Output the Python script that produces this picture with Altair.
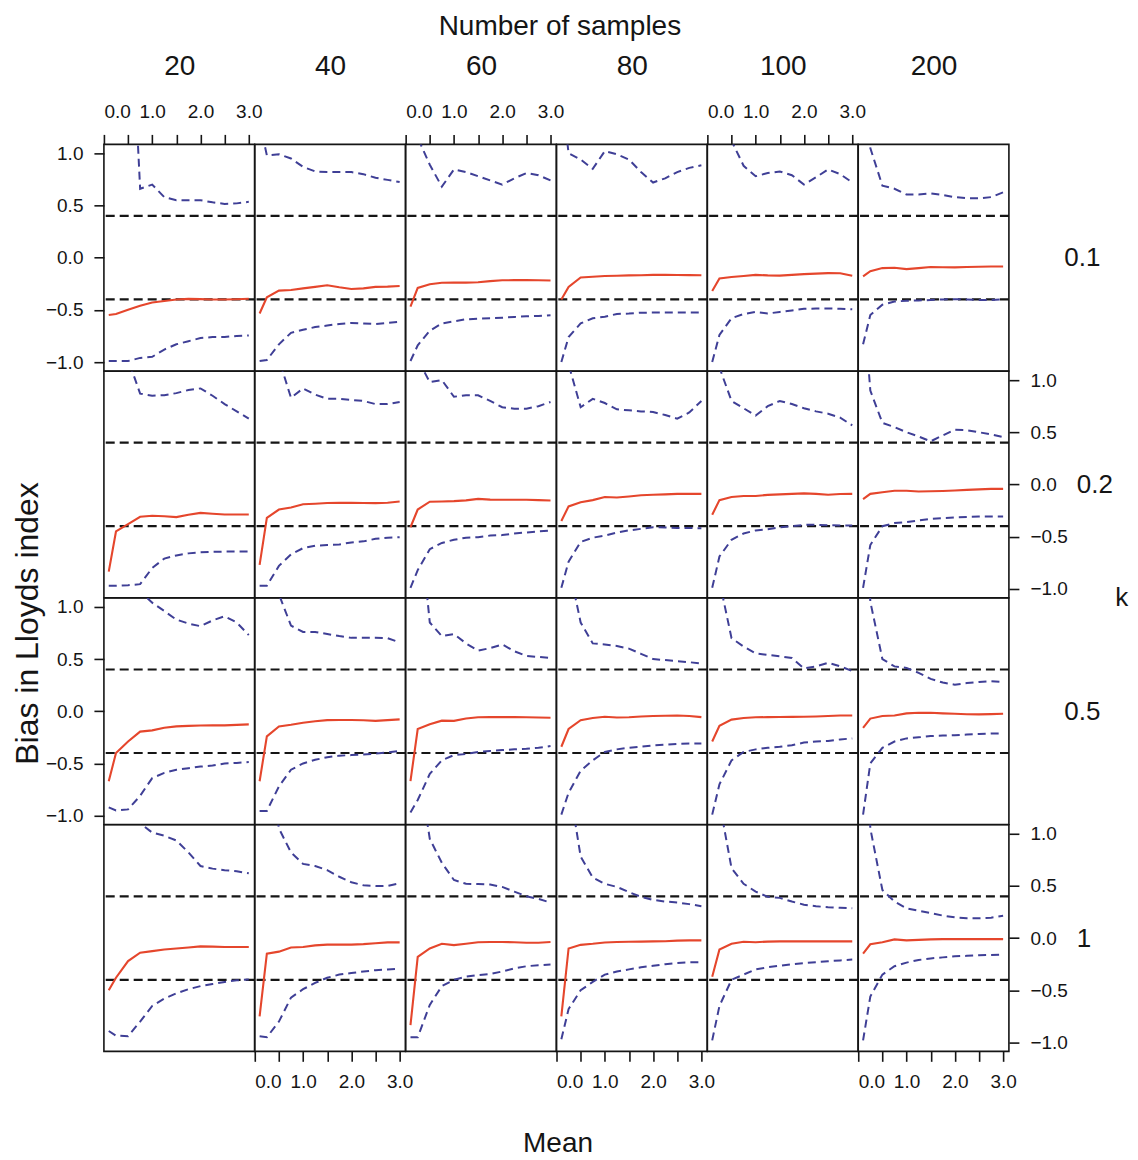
import altair as alt
import pandas as pd

# ---------------- data ----------------
MEAN = [0.1, 0.25, 0.5, 0.75, 1.0, 1.25, 1.5, 1.75, 2.0, 2.25, 2.5, 2.75, 3.0]
SAMPLES = [20, 40, 60, 80, 100, 200]
K_LABELS = ["0.1", "0.2", "0.5", "1"]
LIMITS = [-0.4, 0.4]
X_TICKS = [0, 0.5, 1.0, 1.5, 2.0, 2.5, 3.0]
Y_TICKS = [-1.0, -0.5, 0.0, 0.5, 1.0]

# one list per number of samples (20, 40, 60, 80, 100, 200)
bias_k01 = [
    [-0.55, -0.54, -0.50, -0.46, -0.43, -0.415, -0.40, -0.395, -0.397, -0.40, -0.40, -0.398, -0.394],
    [-0.535, -0.38, -0.316, -0.31, -0.294, -0.28, -0.265, -0.284, -0.30, -0.294, -0.28, -0.277, -0.271],
    [-0.47, -0.29, -0.255, -0.24, -0.239, -0.239, -0.236, -0.225, -0.217, -0.215, -0.214, -0.216, -0.219],
    [-0.40, -0.28, -0.19, -0.183, -0.175, -0.173, -0.17, -0.168, -0.165, -0.165, -0.166, -0.167, -0.168],
    [-0.32, -0.20, -0.185, -0.175, -0.165, -0.17, -0.172, -0.165, -0.158, -0.153, -0.148, -0.15, -0.174],
    [-0.18, -0.13, -0.10, -0.097, -0.11, -0.10, -0.09, -0.092, -0.093, -0.09, -0.087, -0.085, -0.084],
]
lower_k01 = [
    [-0.99, -0.99, -0.99, -0.96, -0.95, -0.88, -0.83, -0.80, -0.77, -0.76, -0.76, -0.75, -0.745],
    [-0.99, -0.98, -0.83, -0.72, -0.69, -0.665, -0.65, -0.635, -0.625, -0.63, -0.635, -0.625, -0.615],
    [-0.99, -0.84, -0.70, -0.63, -0.61, -0.59, -0.585, -0.58, -0.575, -0.568, -0.562, -0.558, -0.552],
    [-1.0, -0.76, -0.63, -0.58, -0.565, -0.54, -0.535, -0.527, -0.526, -0.526, -0.526, -0.526, -0.526],
    [-1.0, -0.74, -0.58, -0.54, -0.52, -0.535, -0.52, -0.505, -0.49, -0.487, -0.487, -0.49, -0.494],
    [-0.83, -0.55, -0.45, -0.42, -0.413, -0.41, -0.406, -0.40, -0.398, -0.40, -0.405, -0.405, -0.40],
]
upper_k01 = [
    [3.0, 3.0, 3.0, 0.66, 0.70, 0.58, 0.55, 0.55, 0.55, 0.53, 0.515, 0.52, 0.535],
    [1.3, 0.98, 0.99, 0.95, 0.87, 0.826, 0.82, 0.82, 0.82, 0.80, 0.765, 0.745, 0.725],
    [1.5, 1.15, 0.89, 0.68, 0.845, 0.82, 0.78, 0.74, 0.70, 0.76, 0.81, 0.79, 0.74],
    [1.6, 1.0, 0.94, 0.85, 1.02, 0.99, 0.94, 0.82, 0.72, 0.76, 0.82, 0.86, 0.885],
    [1.6, 1.4, 1.12, 0.88, 0.78, 0.81, 0.826, 0.79, 0.70, 0.77, 0.845, 0.80, 0.72],
    [1.8, 1.05, 0.69, 0.66, 0.605, 0.605, 0.616, 0.60, 0.58, 0.57, 0.568, 0.58, 0.626],
]

bias_k02 = [
    [-0.835, -0.45, -0.38, -0.31, -0.30, -0.305, -0.313, -0.29, -0.272, -0.28, -0.288, -0.288, -0.288],
    [-0.77, -0.32, -0.24, -0.22, -0.19, -0.185, -0.178, -0.176, -0.176, -0.178, -0.179, -0.175, -0.163],
    [-0.41, -0.24, -0.165, -0.163, -0.16, -0.152, -0.138, -0.145, -0.147, -0.147, -0.147, -0.15, -0.154],
    [-0.35, -0.21, -0.17, -0.15, -0.12, -0.125, -0.115, -0.104, -0.099, -0.095, -0.09, -0.09, -0.09],
    [-0.29, -0.15, -0.12, -0.11, -0.11, -0.10, -0.095, -0.09, -0.085, -0.09, -0.098, -0.092, -0.09],
    [-0.14, -0.09, -0.075, -0.06, -0.06, -0.067, -0.065, -0.062, -0.058, -0.052, -0.047, -0.042, -0.042],
]
lower_k02 = [
    [-0.97, -0.97, -0.965, -0.955, -0.80, -0.71, -0.68, -0.66, -0.65, -0.645, -0.643, -0.643, -0.643],
    [-0.97, -0.97, -0.78, -0.67, -0.61, -0.586, -0.58, -0.575, -0.555, -0.545, -0.52, -0.51, -0.506],
    [-0.99, -0.82, -0.62, -0.56, -0.53, -0.51, -0.505, -0.49, -0.485, -0.47, -0.46, -0.45, -0.442],
    [-0.99, -0.74, -0.55, -0.51, -0.49, -0.46, -0.44, -0.425, -0.41, -0.412, -0.416, -0.417, -0.419],
    [-0.99, -0.69, -0.53, -0.47, -0.44, -0.43, -0.41, -0.40, -0.387, -0.387, -0.39, -0.394, -0.394],
    [-0.99, -0.58, -0.40, -0.37, -0.36, -0.345, -0.33, -0.322, -0.315, -0.311, -0.308, -0.307, -0.307],
]
upper_k02 = [
    [2.0, 1.7, 1.2, 0.87, 0.85, 0.855, 0.875, 0.905, 0.92, 0.85, 0.77, 0.70, 0.63],
    [2.0, 1.7, 1.2, 0.83, 0.92, 0.86, 0.82, 0.82, 0.81, 0.80, 0.77, 0.77, 0.79],
    [1.8, 1.2, 0.98, 1.0, 0.84, 0.855, 0.854, 0.80, 0.74, 0.726, 0.726, 0.75, 0.79],
    [1.5, 1.15, 0.74, 0.82, 0.78, 0.72, 0.71, 0.70, 0.694, 0.665, 0.63, 0.69, 0.80],
    [1.5, 1.12, 0.80, 0.73, 0.66, 0.75, 0.80, 0.77, 0.73, 0.70, 0.678, 0.64, 0.566],
    [1.8, 0.90, 0.59, 0.55, 0.50, 0.46, 0.413, 0.47, 0.525, 0.52, 0.50, 0.48, 0.454],
]

bias_k05 = [
    [-0.67, -0.40, -0.29, -0.195, -0.183, -0.158, -0.145, -0.14, -0.137, -0.135, -0.135, -0.13, -0.126],
    [-0.67, -0.24, -0.145, -0.13, -0.11, -0.095, -0.085, -0.084, -0.084, -0.086, -0.092, -0.085, -0.078],
    [-0.67, -0.17, -0.125, -0.09, -0.092, -0.07, -0.058, -0.056, -0.056, -0.056, -0.058, -0.06, -0.062],
    [-0.34, -0.17, -0.085, -0.065, -0.053, -0.06, -0.058, -0.05, -0.046, -0.043, -0.04, -0.045, -0.056],
    [-0.29, -0.14, -0.08, -0.065, -0.058, -0.056, -0.055, -0.054, -0.053, -0.05, -0.045, -0.04, -0.04],
    [-0.16, -0.07, -0.045, -0.04, -0.02, -0.015, -0.015, -0.02, -0.024, -0.028, -0.03, -0.027, -0.024],
]
lower_k05 = [
    [-0.92, -0.95, -0.94, -0.81, -0.64, -0.59, -0.56, -0.545, -0.53, -0.52, -0.50, -0.495, -0.486],
    [-0.955, -0.955, -0.72, -0.56, -0.50, -0.465, -0.44, -0.425, -0.42, -0.415, -0.405, -0.395, -0.38],
    [-0.97, -0.85, -0.60, -0.47, -0.42, -0.41, -0.39, -0.38, -0.372, -0.365, -0.36, -0.35, -0.333],
    [-0.99, -0.78, -0.57, -0.47, -0.39, -0.365, -0.35, -0.338, -0.327, -0.32, -0.312, -0.308, -0.308],
    [-0.99, -0.70, -0.47, -0.39, -0.365, -0.35, -0.34, -0.325, -0.30, -0.29, -0.285, -0.27, -0.26],
    [-0.99, -0.50, -0.35, -0.29, -0.26, -0.25, -0.238, -0.233, -0.23, -0.223, -0.218, -0.213, -0.212],
]
upper_k05 = [
    [2.0, 1.8, 1.5, 1.15, 1.04, 0.96, 0.878, 0.84, 0.815, 0.87, 0.91, 0.85, 0.73],
    [2.2, 1.8, 1.12, 0.82, 0.76, 0.76, 0.74, 0.72, 0.703, 0.703, 0.705, 0.70, 0.66],
    [2.5, 2.0, 0.85, 0.72, 0.74, 0.65, 0.58, 0.605, 0.64, 0.575, 0.53, 0.52, 0.51],
    [2.0, 1.4, 0.85, 0.65, 0.64, 0.625, 0.60, 0.55, 0.50, 0.49, 0.48, 0.47, 0.457],
    [2.5, 1.25, 0.70, 0.62, 0.555, 0.54, 0.527, 0.51, 0.41, 0.43, 0.464, 0.43, 0.385],
    [2.5, 1.05, 0.50, 0.43, 0.415, 0.368, 0.31, 0.275, 0.255, 0.27, 0.28, 0.288, 0.28],
]

bias_k1 = [
    [-0.50, -0.38, -0.22, -0.14, -0.125, -0.11, -0.10, -0.09, -0.08, -0.082, -0.085, -0.086, -0.086],
    [-0.75, -0.15, -0.13, -0.09, -0.085, -0.07, -0.063, -0.063, -0.063, -0.058, -0.05, -0.041, -0.041],
    [-0.835, -0.18, -0.10, -0.055, -0.068, -0.055, -0.04, -0.038, -0.038, -0.04, -0.045, -0.045, -0.038],
    [-0.75, -0.10, -0.065, -0.055, -0.042, -0.038, -0.036, -0.034, -0.032, -0.03, -0.025, -0.022, -0.022],
    [-0.37, -0.11, -0.055, -0.035, -0.04, -0.034, -0.032, -0.032, -0.032, -0.032, -0.032, -0.032, -0.032],
    [-0.15, -0.06, -0.04, -0.013, -0.022, -0.017, -0.013, -0.01, -0.01, -0.01, -0.01, -0.01, -0.01],
]
lower_k1 = [
    [-0.89, -0.935, -0.94, -0.80, -0.65, -0.58, -0.53, -0.49, -0.46, -0.44, -0.42, -0.405, -0.397],
    [-0.94, -0.95, -0.80, -0.57, -0.49, -0.43, -0.38, -0.35, -0.335, -0.32, -0.308, -0.30, -0.295],
    [-0.95, -0.95, -0.64, -0.46, -0.40, -0.37, -0.355, -0.345, -0.32, -0.29, -0.27, -0.26, -0.254],
    [-0.97, -0.68, -0.50, -0.42, -0.35, -0.32, -0.30, -0.28, -0.265, -0.25, -0.238, -0.232, -0.232],
    [-0.98, -0.65, -0.40, -0.35, -0.30, -0.28, -0.265, -0.25, -0.24, -0.232, -0.222, -0.214, -0.206],
    [-0.98, -0.56, -0.35, -0.27, -0.235, -0.21, -0.195, -0.185, -0.175, -0.17, -0.165, -0.162, -0.159],
]
upper_k1 = [
    [2.5, 2.0, 1.6, 1.1, 1.01, 0.98, 0.935, 0.82, 0.69, 0.665, 0.65, 0.64, 0.62],
    [2.5, 1.8, 1.05, 0.82, 0.71, 0.69, 0.65, 0.587, 0.535, 0.505, 0.498, 0.50, 0.524],
    [2.5, 1.7, 0.95, 0.72, 0.556, 0.52, 0.517, 0.512, 0.49, 0.445, 0.40, 0.375, 0.34],
    [2.5, 1.5, 0.78, 0.58, 0.52, 0.49, 0.44, 0.395, 0.365, 0.35, 0.34, 0.325, 0.305],
    [2.5, 1.3, 0.67, 0.52, 0.445, 0.395, 0.385, 0.35, 0.32, 0.305, 0.295, 0.29, 0.286],
    [2.5, 1.05, 0.46, 0.35, 0.285, 0.262, 0.24, 0.215, 0.198, 0.19, 0.19, 0.195, 0.213],
]

BIAS = [bias_k01, bias_k02, bias_k05, bias_k1]
LOWER = [lower_k01, lower_k02, lower_k05, lower_k1]
UPPER = [upper_k01, upper_k02, upper_k05, upper_k1]

rows = []
for ki, k in enumerate(K_LABELS):
    for ni, n in enumerate(SAMPLES):
        for mi, m in enumerate(MEAN):
            rows.append({"k": k, "n": n, "mean": m,
                         "bias": BIAS[ki][ni][mi],
                         "lower": LOWER[ki][ni][mi],
                         "upper": UPPER[ki][ni][mi]})
df = pd.DataFrame(rows)
lim_df = pd.DataFrame({"lim": LIMITS})
k_title_df = pd.DataFrame({"label": ["k"]})

# ---------------- styling ----------------
FONT = "Liberation Sans"
W, H = 150.8, 226.75
XDOM = [0, 3.12]
YDOM = [-1.085, 1.085]
RED = "#e5462c"
BLUE = "#3f3f96"
INK = "#151515"
TICK_FS = 19
HEAD_FS = 28
TITLE_FS = 28
ROW_FS = 26

axis_style = dict(labelFont=FONT, labelFontSize=TICK_FS, labelColor=INK,
                  tickColor=INK, tickWidth=1.6, tickSize=10,
                  domain=False, grid=False, titleFont=FONT,
                  titleFontWeight="normal", titleColor=INK)
x_lab = "datum.value % 1 == 0 ? format(datum.value, '.1f') : ''"


def x_axis(ki, ni):
    n = SAMPLES[ni]
    if ki == 0:
        if ni % 2 == 0:
            return alt.Axis(orient="top", values=X_TICKS, labelExpr=x_lab,
                            labelPadding=13, title=str(n), titleFontSize=HEAD_FS,
                            titlePadding=22, **axis_style)
        return alt.Axis(orient="top", labels=False, ticks=False, domain=False,
                        grid=False, title=str(n), titlePadding=64,
                        titleFont=FONT, titleFontSize=HEAD_FS,
                        titleFontWeight="normal", titleColor=INK)
    if ki == 3 and ni % 2 == 1:
        if ni == 3:
            return alt.Axis(orient="bottom", values=X_TICKS, labelExpr=x_lab,
                            labelPadding=11, title="Mean", titleX=1,
                            titleFontSize=TITLE_FS, titlePadding=38, **axis_style)
        return alt.Axis(orient="bottom", values=X_TICKS, labelExpr=x_lab,
                        labelPadding=11, title="", **axis_style)
    return None


def y_axis(ki, ni):
    k = K_LABELS[ki]
    if ni == 0 and ki in (0, 2):
        if ki == 2:
            return alt.Axis(orient="left", values=Y_TICKS, format=".1f",
                            labelPadding=11, title="Bias in Lloyds index",
                            titleFontSize=32, titleY=25, titlePadding=1,
                            **axis_style)
        return alt.Axis(orient="left", values=Y_TICKS, format=".1f",
                        labelPadding=11, title="", **axis_style)
    if ni == 5:
        if ki in (1, 3):
            return alt.Axis(orient="right", values=Y_TICKS, format=".1f",
                            labelPadding=11, title=k, titleAngle=0,
                            titleAlign="left", titleBaseline="middle",
                            titleFontSize=ROW_FS, titlePadding=9, **axis_style)
        return alt.Axis(orient="right", labels=False, ticks=False, domain=False,
                        grid=False, title=k, titleAngle=0, titleAlign="left",
                        titleBaseline="middle", titlePadding=55,
                        titleFont=FONT, titleFontSize=ROW_FS,
                        titleFontWeight="normal", titleColor=INK)
    return None


def panel(ki, ni):
    k, n = K_LABELS[ki], SAMPLES[ni]
    xa, ya = x_axis(ki, ni), y_axis(ki, ni)
    xs = alt.Scale(domain=XDOM, nice=False, zero=False)
    ys = alt.Scale(domain=YDOM, nice=False, zero=False)

    def X():
        return alt.X("mean:Q", scale=xs, axis=xa,
                     title=xa.title if xa is not None else "")

    def Y(field):
        return alt.Y(f"{field}:Q", scale=ys, axis=ya,
                     title=ya.title if ya is not None else "")

    base = alt.Chart(df).transform_filter(
        (alt.datum.k == k) & (alt.datum.n == n))
    rules = alt.Chart(lim_df).mark_rule(
        color=INK, strokeWidth=2.2, strokeDash=[9, 5]).encode(y=Y("lim"))
    lo = base.mark_line(color=BLUE, strokeWidth=2, strokeDash=[8, 5], clip=True).encode(
        x=X(), y=Y("lower"))
    hi = base.mark_line(color=BLUE, strokeWidth=2, strokeDash=[8, 5], clip=True).encode(
        x=X(), y=Y("upper"))
    red = base.mark_line(color=RED, strokeWidth=2.1, clip=True).encode(
        x=X(), y=Y("bias"))
    layers = [rules, lo, hi, red]
    if ki == 1 and ni == 5:
        layers.append(alt.Chart(k_title_df).mark_text(
            font=FONT, fontSize=ROW_FS, color=INK, align="center", baseline="middle"
        ).encode(text="label:N", x=alt.value(W + 113), y=alt.value(H)))
    return alt.layer(*layers).properties(width=W, height=H)


panels = [panel(ki, ni) for ki in range(4) for ni in range(6)]

chart = alt.concat(
    *panels, columns=6, spacing=0, bounds="flush", align="all"
).properties(
    title=alt.TitleParams("Number of samples", font=FONT, fontSize=TITLE_FS,
                          fontWeight="normal", color=INK, anchor="middle",
                          offset=11, dx=-10),
    padding={"left": 2, "top": 4, "right": 0, "bottom": 0},
).configure_view(stroke=INK, strokeWidth=1.6)

chart.save("out.html", embed_options={"renderer": "svg", "actions": False})
